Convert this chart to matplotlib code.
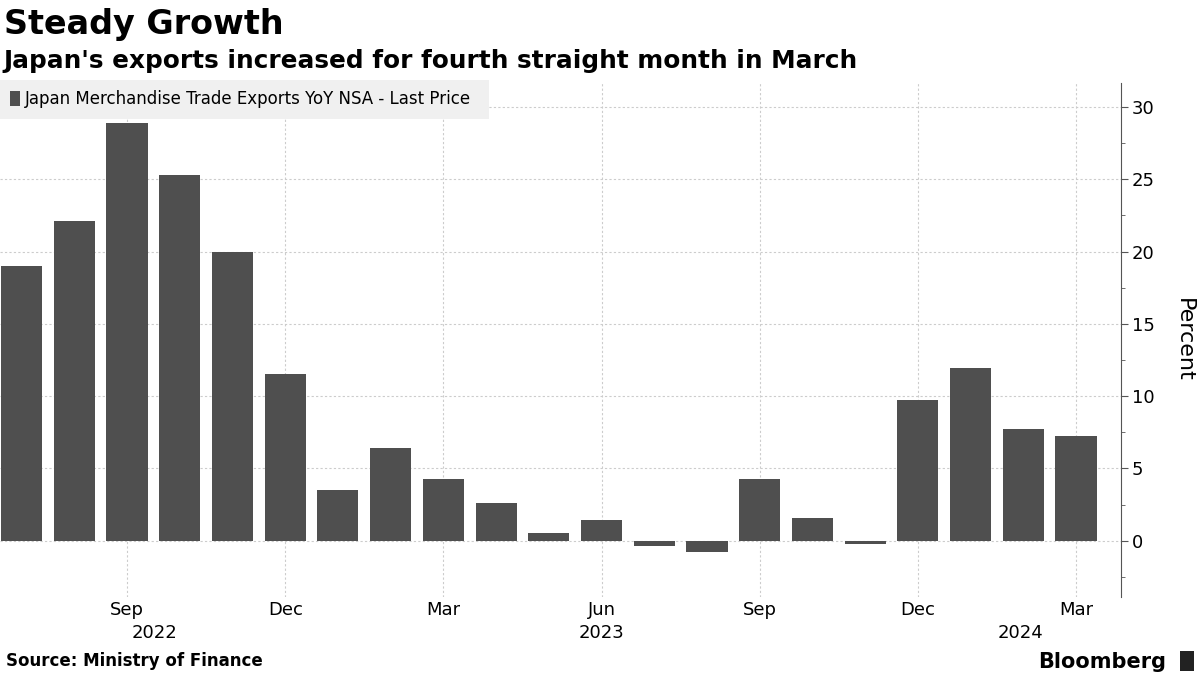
import matplotlib
matplotlib.use("Agg")
import matplotlib.pyplot as plt
from matplotlib.patches import Rectangle

plt.rcParams['font.family'] = ['DejaVu Sans']

months = ["Jul", "Aug", "Sep", "Oct", "Nov", "Dec", "Jan", "Feb", "Mar", "Apr", "May", "Jun",
          "Jul", "Aug", "Sep", "Oct", "Nov", "Dec", "Jan", "Feb", "Mar"]
values = [19.0, 22.1, 28.9, 25.3, 20.0, 11.5, 3.5, 6.4, 4.3, 2.6, 0.55, 1.45,
          -0.35, -0.8, 4.3, 1.6, -0.2, 9.75, 11.95, 7.75, 7.25]
tick_idx = [2, 5, 8, 11, 14, 17, 20]
year_labels = ["2022", "2023", "2024"]
year_pos = [2.53, 11.0, 18.95]
series_name = "Japan Merchandise Trade Exports YoY NSA - Last Price"
bar_color = "#4f4f4f"

fig = plt.figure(figsize=(12, 6.75), dpi=100)
ax = fig.add_axes([0.0, 0.116, 0.934, 0.761])

x = list(range(len(values)))
ax.bar(x, values, width=0.78, color=bar_color, zorder=3)

ax.set_xlim(-0.41, 20.85)
ax.set_ylim(-3.87, 31.66)

ax.yaxis.tick_right()
ax.yaxis.set_label_position("right")
ax.set_yticks([0, 5, 10, 15, 20, 25, 30])
ax.set_yticks([-2.5, 2.5, 7.5, 12.5, 17.5, 22.5, 27.5], minor=True)
ax.tick_params(axis='y', which='major', labelsize=13, length=5, color="#555555", pad=3)
ax.tick_params(axis='y', which='minor', length=3, color="#555555")
ax.set_ylabel("Percent", rotation=270, fontsize=16, labelpad=28)

ax.set_xticks(tick_idx)
ax.set_xticklabels([months[i] for i in tick_idx])
ax.tick_params(axis='x', length=0, labelsize=13, pad=3)
for yl, yp in zip(year_labels, year_pos):
    ax.text(yp, -0.070, yl, transform=ax.get_xaxis_transform(), ha='center', va='center', fontsize=13)

for s in ["top", "left", "bottom"]:
    ax.spines[s].set_visible(False)
ax.spines["right"].set_color("#555555")

ax.grid(True, axis='both', which='major', linestyle=(0, (2, 2)), color="#cccccc", linewidth=0.8, zorder=0)

# legend box
ax.add_patch(Rectangle((0.0, 0.93), 0.436, 0.075, transform=ax.transAxes,
                       facecolor="#f0f0f0", edgecolor='none', zorder=4, clip_on=False))
ax.add_patch(Rectangle((0.009, 0.955), 0.009, 0.03, transform=ax.transAxes,
                       facecolor=bar_color, edgecolor='none', zorder=5, clip_on=False))
ax.text(0.022, 0.968, series_name, transform=ax.transAxes, fontsize=12, va='center', ha='left', zorder=6)

fig.text(0.003, 0.963, "Steady Growth", fontsize=24, fontweight='bold', ha='left', va='center')
fig.text(0.003, 0.91, "Japan's exports increased for fourth straight month in March", fontsize=17.8,
         fontweight='bold', ha='left', va='center')
fig.text(0.005, 0.02, "Source: Ministry of Finance", fontsize=12, fontweight='bold', ha='left', va='center')
fig.text(0.972, 0.02, "Bloomberg", fontsize=15, fontweight='bold', ha='right', va='center')
fig.patches.append(Rectangle((0.983, 0.006), 0.012, 0.03, transform=fig.transFigure,
                             facecolor="#222222", edgecolor='none'))

fig.savefig("out.png", dpi=100)
